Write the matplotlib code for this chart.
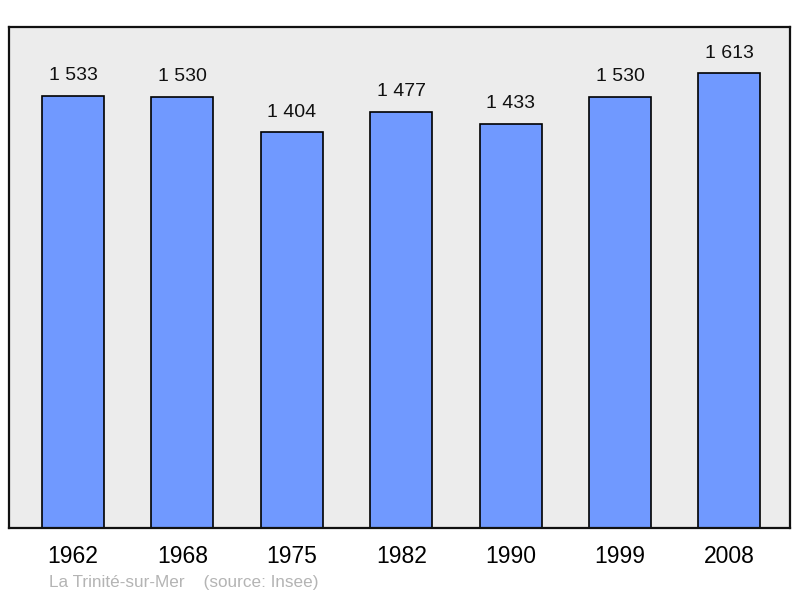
import matplotlib.pyplot as plt

plt.rcParams['font.family'] = ['Liberation Sans', 'DejaVu Sans']

years = ["1962", "1968", "1975", "1982", "1990", "1999", "2008"]
population = [1533, 1530, 1404, 1477, 1433, 1530, 1613]
value_labels = ["1 533", "1 530", "1 404", "1 477", "1 433", "1 530", "1 613"]

fig = plt.figure(figsize=(8, 5.98), dpi=100)
ax = fig.add_axes([9 / 800, 1 - 528 / 598, 781 / 800, 501 / 598])
ax.set_facecolor("#ececec")

x = list(range(len(years)))
ax.bar(x, population, width=0.567, color="#7099ff", edgecolor="black", linewidth=1.2, zorder=2)

for xi, v, lab in zip(x, population, value_labels):
    ax.annotate(lab, (xi, v), xytext=(0, 14.5), textcoords="offset points",
                ha="center", va="center", fontsize=14, color="#111111")

ax.set_xlim(-0.585, 6.554)
ax.set_ylim(0, 1777)
ax.set_yticks([])
ax.set_xticks([])
for s in ax.spines.values():
    s.set_linewidth(1.6)
    s.set_color("#111111")

for xi, yr in zip(x, years):
    ax.annotate(yr, (xi, 0), xytext=(0, -20.5), textcoords="offset points",
                ha="center", va="center", fontsize=16.5, color="black",
                annotation_clip=False)

fig.text(49 / 800, 1 - 583 / 598, "La Trinité-sur-Mer    (source: Insee)",
         fontsize=12.3, color="#b4b4b4", ha="left", va="center")

fig.savefig("out.png", dpi=100)
